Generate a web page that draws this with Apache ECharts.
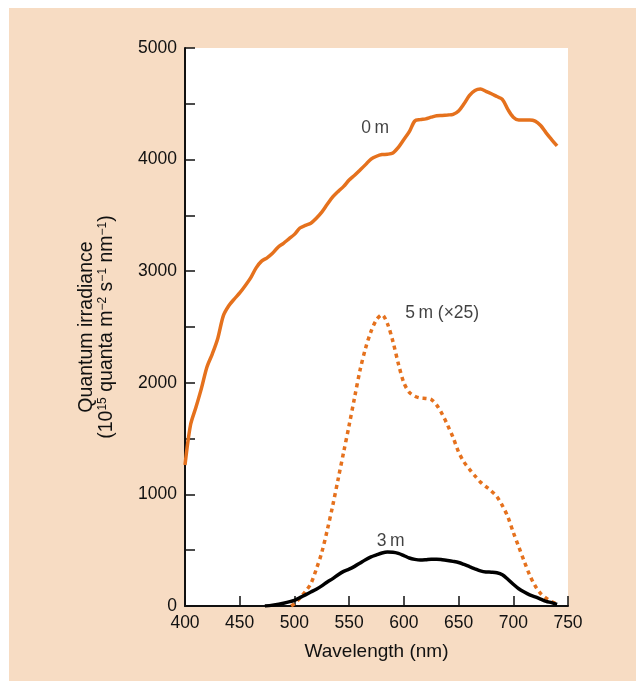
<!DOCTYPE html>
<html><head><meta charset="utf-8">
<script src="https://cdn.jsdelivr.net/npm/echarts@6/dist/echarts.min.js"></script>
<style>
html,body{margin:0;padding:0;background:#ffffff;}
#c{position:absolute;left:9px;top:8px;width:627px;height:673px;}
</style></head>
<body><div id="c"></div>
<script>
// 0 m surface irradiance
const wl0 = [400,405,410,415,420,425,430,435,440,445,450,455,460,465,470,475,480,485,490,495,500,505,510,515,520,525,530,535,540,545,550,555,560,565,570,575,580,585,590,595,600,605,610,615,620,625,630,635,640,645,650,655,660,665,670,675,680,685,690,695,700,705,710,715,720,725,730,735,740];
const val0 = [1263,1620,1780,1950,2140,2260,2400,2600,2690,2750,2805,2870,2940,3030,3090,3120,3160,3215,3250,3290,3330,3387,3410,3430,3475,3530,3600,3665,3715,3760,3817,3860,3907,3955,4005,4030,4045,4048,4060,4110,4180,4250,4346,4358,4365,4380,4393,4396,4400,4405,4435,4500,4575,4620,4632,4612,4590,4565,4540,4450,4380,4355,4355,4355,4345,4305,4240,4180,4122];
// 5 m (x25)
const wl5 = [497,500,505,510,515,520,525,530,535,540,545,550,555,560,565,570,575,580,585,590,595,600,605,610,615,620,625,630,635,640,645,650,655,660,665,670,675,680,685,690,695,700,705,710,715,720,725,730,735,740];
const val5 = [0,20,72,130,200,330,480,680,900,1140,1380,1620,1870,2115,2310,2460,2565,2610,2530,2370,2170,2000,1915,1880,1864,1860,1850,1800,1720,1620,1510,1380,1290,1225,1165,1110,1070,1030,980,900,800,660,530,400,278,180,112,70,40,18];
// 3 m
const wl3 = [473,480,490,500,505,510,515,520,525,530,535,540,545,550,555,560,565,570,575,580,585,590,595,600,605,610,615,620,625,630,635,640,645,650,655,660,665,670,675,680,685,690,695,700,705,710,715,720,725,730,735,740];
const val3 = [0,8,25,50,75,100,125,150,180,215,245,280,310,330,355,385,415,440,458,475,483,482,472,452,430,418,412,415,420,420,415,408,400,390,372,352,333,315,305,303,298,280,240,195,155,125,100,82,62,42,30,15];
// curve labels [wavelength, value, text]
const curveLabels = [[573.7,4283,'0\u2009m'],[635,2625,'5\u2009m (\u00d725)'],[588,582,'3\u2009m']];
const xTicks = {min:400,max:750,step:50};
const yTicks = {min:0,max:5000,step:500,labelStep:1000};

const ORANGE = '#e5711d';
const FONT = 'Liberation Sans, Arial, sans-serif';
const zip = (a,b)=>a.map((x,i)=>[x,b[i]]);

const chart = echarts.init(document.getElementById('c'));
chart.setOption({
  backgroundColor:'#f7dcc3',
  animation:false,
  textStyle:{fontFamily:FONT},
  grid:{left:176,right:68,top:40,bottom:75,show:true,backgroundColor:'#ffffff',borderWidth:0},
  xAxis:{type:'value',min:xTicks.min,max:xTicks.max,interval:xTicks.step,
    name:'Wavelength (nm)',nameLocation:'middle',nameGap:36,
    nameTextStyle:{fontSize:19,color:'#111',fontFamily:FONT},
    axisLine:{lineStyle:{color:'#111',width:2}},
    axisTick:{inside:true,length:10,lineStyle:{color:'#111',width:1.5}},
    axisLabel:{fontSize:17.5,color:'#111',margin:8,fontFamily:FONT},
    splitLine:{show:false}},
  yAxis:{type:'value',min:yTicks.min,max:yTicks.max,interval:yTicks.step,
    name:'{a|Quantum irradiance}\n{a|(10}{s|15}{a| quanta m}{s|\u22122}{a| s}{s|\u22121}{a| nm}{s|\u22121}{a|)}',
    nameLocation:'middle',nameGap:68,
    nameTextStyle:{color:'#111',fontFamily:FONT,rich:{
      a:{fontSize:19.5,color:'#111',fontFamily:FONT,lineHeight:20},
      s:{fontSize:12,color:'#111',fontFamily:FONT,verticalAlign:'top',lineHeight:20,padding:[0,0,8,0]}}},
    axisLine:{show:true,lineStyle:{color:'#111',width:2}},
    axisTick:{show:true,inside:true,length:10,lineStyle:{color:'#111',width:1.5}},
    axisLabel:{fontSize:17.5,color:'#111',margin:8,fontFamily:FONT,
      formatter:v=> (v % yTicks.labelStep === 0 ? String(v) : '')},
    splitLine:{show:false}},
  series:[
    {name:'0 m',type:'line',data:zip(wl0,val0),showSymbol:false,smooth:0.3,
      lineStyle:{color:ORANGE,width:3.5},z:3},
    {name:'5 m (x25)',type:'line',data:zip(wl5,val5),showSymbol:false,smooth:0.3,
      lineStyle:{color:ORANGE,width:3.5,type:[4,4]},z:3},
    {name:'3 m',type:'line',data:zip(wl3,val3),showSymbol:false,smooth:0.3,
      lineStyle:{color:'#000',width:3.5},z:4},
    {name:'labels',type:'scatter',symbolSize:0,silent:true,
      data:curveLabels.map(d=>({value:[d[0],d[1]],name:d[2]})),
      label:{show:true,position:'inside',formatter:p=>p.name,fontSize:17.5,color:'#111',fontFamily:FONT},z:5}
  ]
});
</script></body></html>
